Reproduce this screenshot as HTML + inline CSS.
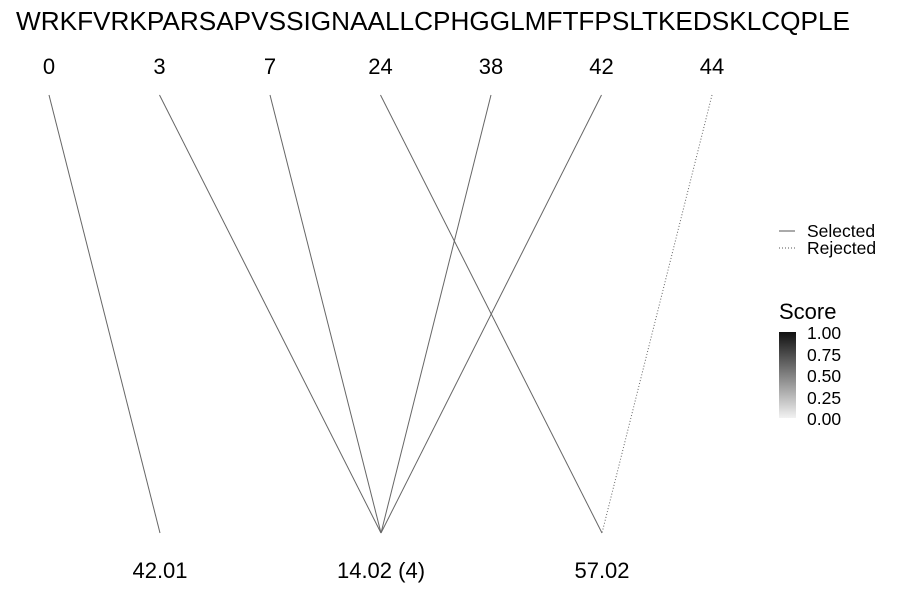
<!DOCTYPE html>
<html><head><meta charset="utf-8"><style>
body{margin:0;background:#fff;}
svg{display:block;font-family:"Liberation Sans",sans-serif;}
</style></head><body>
<svg id="chart" width="900" height="600">
<defs><linearGradient id="g" x1="0" y1="1" x2="0" y2="0"><stop offset="0" stop-color="#f2f2f2"/><stop offset="1" stop-color="#111"/></linearGradient></defs>
<text x="16" y="30" font-size="26" textLength="834" lengthAdjust="spacingAndGlyphs">WRKFVRKPARSAPVSSIGNAALLCPHGGLMFTFPSLTKEDSKLCQPLE</text>
<g id="lines"></g><g id="toplabels"></g><g id="botlabels"></g>
<g>
<line x1="779" y1="231" x2="795" y2="231" stroke="#555" stroke-width="1"/>
<text x="807" y="237" font-size="17.5">Selected</text>
<line x1="779" y1="248" x2="795" y2="248" stroke="#555" stroke-width="1" stroke-dasharray="1,2"/>
<text x="807" y="254" font-size="17.5">Rejected</text>
</g>
<g>
<text x="779" y="319" font-size="22">Score</text>
<rect x="779" y="332" width="17" height="86" fill="url(#g)"/>
<g font-size="17.5">
<text x="807" y="339">1.00</text><text x="807" y="361">0.75</text><text x="807" y="382">0.50</text><text x="807" y="404">0.25</text><text x="807" y="425">0.00</text>
</g></g>
</svg>
<script>
const topPositions=[0,3,7,24,38,42,44];
const bottomLabels=["42.01","14.02 (4)","57.02"];
const linkFrom=[0,1,2,3,4,5,6];
const linkTo=[0,1,1,2,1,1,2];
const linkSelected=[1,1,1,1,1,1,0];
const NS="http://www.w3.org/2000/svg";
const xTop=i=>49+i*110.5, xBot=j=>160+j*221;
const yTop=95,yBot=533;
const L=document.getElementById('lines'),T=document.getElementById('toplabels'),B=document.getElementById('botlabels');
topPositions.forEach((p,i)=>{const t=document.createElementNS(NS,'text');
t.setAttribute('x',xTop(i));t.setAttribute('y',74);t.setAttribute('font-size','22');t.setAttribute('text-anchor','middle');t.textContent=p;


T.appendChild(t);});
bottomLabels.forEach((s,j)=>{const t=document.createElementNS(NS,'text');
t.setAttribute('x',xBot(j));t.setAttribute('y',578);t.setAttribute('font-size','22');t.setAttribute('text-anchor','middle');t.textContent=s;


B.appendChild(t);});
linkFrom.forEach((f,k)=>{const l=document.createElementNS(NS,'line');
l.setAttribute('x1',xTop(f));l.setAttribute('y1',yTop);l.setAttribute('x2',xBot(linkTo[k]));l.setAttribute('y2',yBot);
l.setAttribute('stroke','#666');l.setAttribute('stroke-width','1');
if(!linkSelected[k])l.setAttribute('stroke-dasharray','1,2');


L.appendChild(l);});
</script>
</body></html>
